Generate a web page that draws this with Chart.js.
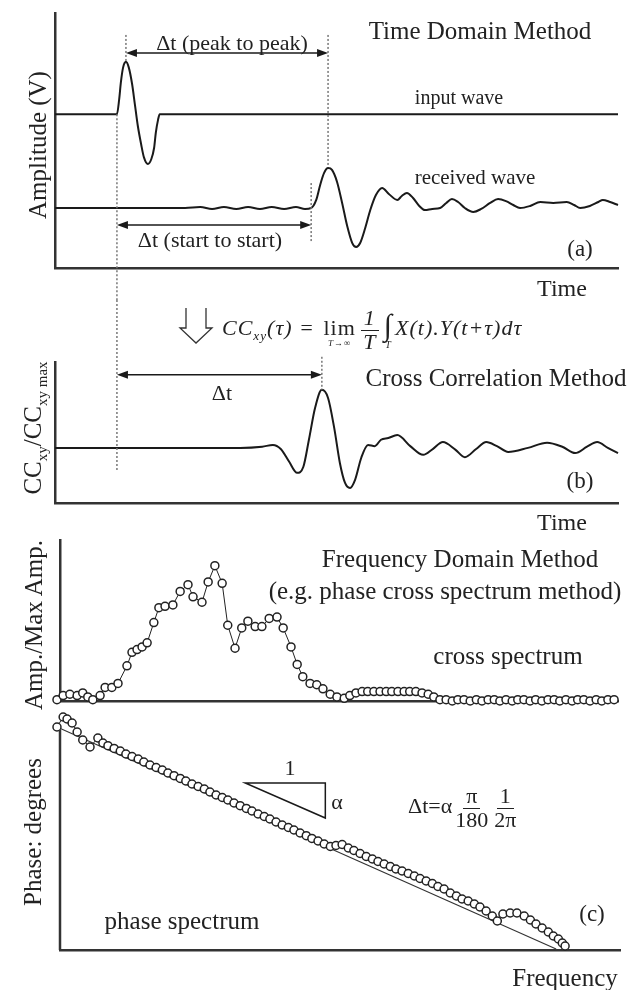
<!DOCTYPE html>
<html>
<head>
<meta charset="utf-8">
<script src="https://cdn.jsdelivr.net/npm/chart.js@4.4.1/dist/chart.umd.min.js"></script>
<style>
  body { margin: 0; background: #fff; }
  #fig { position: relative; width: 629px; height: 990px; overflow: hidden;
         font-family: "Liberation Serif", "Times New Roman", serif; color: #222; }
  canvas { position: absolute; left: 0; }
  .t { position: absolute; white-space: nowrap; line-height: 1; transform: translate(-50%, -50%); }
  .r { transform: translate(-50%, -50%) rotate(-90deg); }
  .l { transform: translateY(-50%); }
  .frac { display: inline-flex; flex-direction: column; align-items: center; vertical-align: middle; margin: 0 3px; }
  .frac > span:first-child { border-bottom: 1px solid #222; padding: 0 3px 1px; }
  .lim { display: inline-flex; flex-direction: column; align-items: center; font-style: normal; margin: 0 2px; }
  .lim small { font-size: 9px; font-style: italic; }
  .int { display: inline-flex; flex-direction: column; align-items: center; vertical-align: middle; margin: 0 2px; font-size: 30px; }
  .int small { font-size: 10px; }
  sub { font-size: 0.6em; }
</style>
</head>
<body>
<div id="fig">
  <canvas id="cA" width="629" height="300" style="top:0"></canvas>
  <canvas id="cB" width="629" height="230" style="top:300px"></canvas>
  <canvas id="cC" width="629" height="190" style="top:525px"></canvas>
  <canvas id="cD" width="629" height="285" style="top:705px"></canvas>

  <!-- panel (a) -->
  <div class="t" style="left:232px;top:43px;font-size:22px">Δt (peak to peak)</div>
  <div class="t" style="left:480px;top:30px;font-size:25px">Time Domain Method</div>
  <div class="t" style="left:459px;top:97px;font-size:20px">input wave</div>
  <div class="t" style="left:475px;top:177px;font-size:21px">received wave</div>
  <div class="t" style="left:210px;top:240px;font-size:22px">Δt (start to start)</div>
  <div class="t" style="left:580px;top:248px;font-size:23px">(a)</div>
  <div class="t" style="left:562px;top:288px;font-size:24px">Time</div>
  <div class="t r" style="left:37px;top:145px;font-size:25px">Amplitude (V)</div>

  <!-- panel (b) -->
  <div class="t l" style="left:222px;top:330px;font-size:22px;letter-spacing:1px;font-style:italic">CC<sub>xy</sub>(τ) = <span class="lim">lim<small>T→∞</small></span><span class="frac"><span>1</span><span>T</span></span><span class="int">∫<small>T</small></span>X(t).Y(t+τ)dτ</div>
  <div class="t" style="left:496px;top:377px;font-size:25px">Cross Correlation Method</div>
  <div class="t" style="left:222px;top:393px;font-size:22px">Δt</div>
  <div class="t" style="left:580px;top:480px;font-size:23px">(b)</div>
  <div class="t" style="left:562px;top:522px;font-size:24px">Time</div>
  <div class="t r" style="left:35px;top:428px;font-size:25px">CC<sub>xy</sub>/CC<sub>xy max</sub></div>

  <!-- panel (c) -->
  <div class="t" style="left:460px;top:558px;font-size:25px">Frequency Domain Method</div>
  <div class="t" style="left:445px;top:590px;font-size:25px">(e.g. phase cross spectrum method)</div>
  <div class="t" style="left:508px;top:655px;font-size:25px">cross spectrum</div>
  <div class="t r" style="left:33px;top:625px;font-size:25px">Amp./Max Amp.</div>
  <div class="t r" style="left:32px;top:832px;font-size:25px">Phase: degrees</div>
  <div class="t" style="left:290px;top:768px;font-size:22px">1</div>
  <div class="t" style="left:337px;top:802px;font-size:22px">α</div>
  <div class="t l" style="left:408px;top:808px;font-size:22px">Δt=α<span class="frac"><span>π</span><span>180</span></span><span class="frac"><span>1</span><span>2π</span></span></div>
  <div class="t" style="left:592px;top:913px;font-size:23px">(c)</div>
  <div class="t" style="left:182px;top:920px;font-size:25px">phase spectrum</div>
  <div class="t" style="left:565px;top:977px;font-size:25px">Frequency</div>
</div>

<script>
// (a) time domain: input and received waves
const timeInput = [0, 11.0, 11.4, 11.7, 12.1, 12.6, 13.1, 13.7, 14.2, 14.7, 15.3, 15.8, 16.5, 17.1, 17.6, 17.9, 18.3, 18.6, 100];
const ampInput = [3.0, 3.0, 3.8, 4.7, 5.5, 5.8, 5.5, 4.6, 3.5, 2.4, 1.4, 0.7, 0.35, 0.6, 1.2, 2.0, 2.7, 3.0, 3.0];

const timeReceived = [0, 23.1, 25.8, 27.9, 30.0, 32.2, 34.3, 36.4, 38.5, 40.7,
  42.8, 44.4, 45.5, 46.4, 47.1, 47.8, 48.5, 49.2, 50.1, 51.0,
  51.9, 52.8, 53.5, 54.2, 55.1, 56.0, 57.0, 58.1, 59.3, 60.8,
  61.6, 62.5, 63.6, 64.7, 65.7, 67.0, 68.4, 69.5, 70.5, 71.6,
  72.8, 74.3, 75.7, 77.3, 78.7, 80.1, 81.4, 82.6, 84.4, 86.2,
  88.5, 90.9, 92.2, 93.3, 95.0, 96.5, 97.3, 98.6, 100];
const ampReceived = [-2.0, -2.0, -1.95, -2.05, -1.95, -2.05, -1.95, -2.05, -1.95, -2.05,
  -1.95, -2.05, -2.0, -1.57, -0.77, -0.13, 0.13, 0.03, -0.61, -1.73,
  -2.96, -3.87, -4.08, -3.87, -3.07, -2.11, -1.31, -0.93, -1.25, -1.57,
  -1.36, -1.20, -1.47, -1.89, -2.11, -2.05, -2.0, -1.73, -1.52, -1.68,
  -2.0, -2.21, -2.05, -1.73, -1.52, -1.63, -1.84, -2.0, -1.89, -1.68,
  -1.73, -1.68, -1.84, -2.0, -1.89, -1.68, -1.57, -1.68, -1.84];

// (b) normalised cross correlation
const timeCC = [0, 32.9, 36.8, 38.7, 40.1, 41.6, 43.0, 44.1, 45.1, 46.2,
  47.4, 48.5, 49.6, 50.6, 51.5, 52.4, 53.3, 54.4, 55.6, 56.8,
  57.9, 59.2, 60.8, 63.1, 65.4, 67.1, 68.9, 71.1, 72.8, 74.8,
  76.6, 78.5, 80.5, 84.0, 87.4, 90.1, 92.4, 94.5, 96.3, 98.2, 100];
const ccNorm = [0, 0, 0.02, 0.05, -0.02, -0.24, -0.43, -0.33, 0.14, 0.69,
  1.0, 0.86, 0.34, -0.26, -0.60, -0.69, -0.55, -0.17, 0.05, 0.03,
  0.14, 0.17, 0.22, 0.03, -0.12, -0.02, 0.10, -0.03, -0.16, -0.02,
  0.10, 0.03, -0.07, 0, 0.09, 0.02, -0.09, 0.02, 0.10, 0, -0.09];

// (c) cross spectrum
const freqCross = [0, 1.1, 2.3, 3.6, 4.6, 5.5, 6.4, 7.7, 8.6, 9.8,
  10.9, 12.5, 13.4, 14.3, 15.2, 16.1, 17.3, 18.2, 19.3, 20.7,
  22.0, 23.4, 24.3, 25.9, 27.0, 28.2, 29.5, 30.5, 31.8, 33.0,
  34.1, 35.4, 36.6, 37.9, 39.3, 40.4, 41.8, 42.9, 43.9, 45.2,
  46.4, 47.5, 48.8, 50.0, 51.3, 52.3, 53.4, 54.5, 55.5, 56.6,
  57.7, 58.8, 59.8, 60.9, 62.0, 63.0, 64.1, 65.2, 66.3, 67.3,
  68.4, 69.5, 70.6, 71.6, 72.7, 73.8, 74.9, 75.9, 77.0, 78.1,
  79.1, 80.2, 81.3, 82.3, 83.4, 84.5, 85.5, 86.6, 87.7, 88.8,
  89.8, 90.9, 92.0, 93.0, 94.1, 95.2, 96.3, 97.3, 98.4, 99.5];
const ampCross = [0.01, 0.04, 0.05, 0.04, 0.06, 0.03, 0.01, 0.04, 0.10, 0.10,
  0.13, 0.26, 0.36, 0.38, 0.40, 0.43, 0.58, 0.69, 0.70, 0.71,
  0.81, 0.86, 0.77, 0.73, 0.88, 1.00, 0.87, 0.56, 0.39, 0.54,
  0.59, 0.55, 0.55, 0.61, 0.62, 0.54, 0.40, 0.27, 0.18, 0.13,
  0.12, 0.09, 0.05, 0.03, 0.02, 0.04, 0.06, 0.07, 0.07, 0.07,
  0.07, 0.07, 0.07, 0.07, 0.07, 0.07, 0.07, 0.06, 0.05, 0.03,
  0.01, 0.01, 0.00, 0.01, 0.01, 0.00, 0.01, 0.00, 0.01, 0.01,
  0.00, 0.01, 0.00, 0.01, 0.01, 0.00, 0.01, 0.00, 0.01, 0.01,
  0.00, 0.01, 0.00, 0.01, 0.01, 0.00, 0.01, 0.00, 0.01, 0.01];

// (c) phase spectrum and its fitted line
const freqPhase = [0.0, 1.1, 1.8, 2.7, 3.6, 4.6, 5.9, 7.3, 8.2, 9.1,
  10.2, 11.3, 12.3, 13.4, 14.5, 15.5, 16.6, 17.7, 18.8, 19.8,
  20.9, 22.0, 23.0, 24.1, 25.2, 26.3, 27.3, 28.4, 29.5, 30.5,
  31.6, 32.7, 33.8, 34.8, 35.9, 37.0, 38.0, 39.1, 40.2, 41.3,
  42.3, 43.4, 44.5, 45.5, 46.6, 47.7, 48.8, 49.8, 50.9, 52.0,
  53.0, 54.1, 55.2, 56.3, 57.3, 58.4, 59.5, 60.5, 61.6, 62.7,
  63.8, 64.8, 65.9, 67.0, 68.0, 69.1, 70.2, 71.3, 72.3, 73.4,
  74.5, 75.5, 76.6, 77.7, 78.6, 79.6, 80.9, 82.1, 83.4, 84.5,
  85.5, 86.6, 87.7, 88.6, 89.5, 90.2, 90.7];
const phaseDeg = [24, 104, 88, 56, -16, -80, -136, -64, -104, -125,
  -147, -168, -192, -212, -232, -256, -280, -300, -320, -344,
  -365, -387, -408, -432, -452, -472, -496, -520, -540, -560,
  -584, -605, -627, -648, -672, -692, -712, -736, -760, -780,
  -800, -824, -845, -867, -888, -912, -932, -924, -916, -944,
  -964, -988, -1012, -1032, -1052, -1072, -1092, -1112, -1128, -1148,
  -1168, -1188, -1208, -1228, -1252, -1272, -1304, -1328, -1352, -1368,
  -1392, -1416, -1448, -1488, -1528, -1472, -1464, -1464, -1488, -1520,
  -1552, -1584, -1616, -1648, -1672, -1704, -1728];
const freqFit = [0, 89.1];
const phaseFit = [24, -1752];

// times used by the Δt markers
const tInputStart = 11.0, tInputPeak = 12.6;
const tRecvStart = 45.5, tRecvPeak = 48.5;
const tCCPeak = 47.4;

const INK = "#1a1a1a";
const AXIS = "#333";
const pts = (xs, ys) => xs.map((x, i) => ({ x: x, y: ys[i] }));

function frame(pad, xMin, xMax, yMin, yMax) {
  const axis = (min, max) => ({
    type: "linear", min: min, max: max,
    grid: { display: false, drawTicks: false, tickLength: 0 },
    ticks: { display: false },
    border: { display: true, color: AXIS, width: 2.5 }
  });
  return {
    responsive: false,
    animation: false,
    events: [],
    layout: { padding: pad },
    plugins: { legend: { display: false }, tooltip: { enabled: false } },
    scales: { x: axis(xMin, xMax), y: axis(yMin, yMax) }
  };
}

function dotted(ctx, x, y1, y2) {
  ctx.save();
  ctx.strokeStyle = "#777";
  ctx.lineWidth = 1.5;
  ctx.setLineDash([2, 2]);
  ctx.beginPath();
  ctx.moveTo(x, y1);
  ctx.lineTo(x, y2);
  ctx.stroke();
  ctx.restore();
}

function head(ctx, x, y, dir) {
  ctx.beginPath();
  ctx.moveTo(x, y);
  ctx.lineTo(x - dir * 11, y - 4);
  ctx.lineTo(x - dir * 11, y + 4);
  ctx.closePath();
  ctx.fill();
}

function dblArrow(ctx, x1, x2, y) {
  ctx.save();
  ctx.strokeStyle = INK;
  ctx.fillStyle = INK;
  ctx.lineWidth = 1.5;
  ctx.beginPath();
  ctx.moveTo(x1 + 4, y);
  ctx.lineTo(x2 - 4, y);
  ctx.stroke();
  head(ctx, x1, y, -1);
  head(ctx, x2, y, 1);
  ctx.restore();
}

const waveStyle = { borderColor: INK, borderWidth: 2, pointRadius: 0, cubicInterpolationMode: "monotone", clip: false };
const dotStyle = { borderColor: "#222", borderWidth: 1, pointRadius: 4, pointBorderWidth: 1.5,
  pointBorderColor: "#222", pointBackgroundColor: "#fff", tension: 0, clip: false };

// panel (a)
new Chart(document.getElementById("cA"), {
  type: "line",
  data: { datasets: [
    Object.assign({ data: pts(timeInput, ampInput) }, waveStyle),
    Object.assign({ data: pts(timeReceived, ampReceived) }, waveStyle)
  ] },
  options: frame({ left: 55, right: 11, top: 13, bottom: 32 }, 0, 100, -5.2, 8.4),
  plugins: [{
    id: "markA",
    afterDatasetsDraw(chart) {
      const { ctx, scales: { x, y } } = chart;
      const xs = x.getPixelForValue(tInputStart), xp = x.getPixelForValue(tInputPeak);
      const rs = x.getPixelForValue(tRecvStart), rp = x.getPixelForValue(tRecvPeak);
      dotted(ctx, xp, y.getPixelForValue(7.23), y.getPixelForValue(5.7));
      dotted(ctx, rp, y.getPixelForValue(7.23), y.getPixelForValue(0.2));
      dblArrow(ctx, xp, rp, y.getPixelForValue(6.27));
      dotted(ctx, xs, y.getPixelForValue(3.0), chart.height);
      dotted(ctx, rs, y.getPixelForValue(-0.67), y.getPixelForValue(-3.87));
      dblArrow(ctx, xs, rs, y.getPixelForValue(-2.91));
    }
  }]
});

// panel (b)
new Chart(document.getElementById("cB"), {
  type: "line",
  data: { datasets: [Object.assign({ data: pts(timeCC, ccNorm) }, waveStyle)] },
  options: frame({ left: 55, right: 11, top: 62, bottom: 27 }, 0, 100, -0.95, 1.48),
  plugins: [{
    id: "markB",
    afterDatasetsDraw(chart) {
      const { ctx, scales: { x, y } } = chart;
      const xs = x.getPixelForValue(tInputStart), xp = x.getPixelForValue(tCCPeak);
      dotted(ctx, xs, 0, y.getPixelForValue(-0.38));
      dotted(ctx, xp, y.getPixelForValue(1.57), y.getPixelForValue(1.0));
      dblArrow(ctx, xs, xp, y.getPixelForValue(1.26));
      // hollow "downward" arrow next to the formula
      ctx.save();
      ctx.strokeStyle = "#333";
      ctx.lineWidth = 1.3;
      ctx.beginPath();
      ctx.moveTo(186, 8);
      ctx.lineTo(186, 28);
      ctx.lineTo(180, 28);
      ctx.lineTo(196, 43);
      ctx.lineTo(212, 28);
      ctx.lineTo(206, 28);
      ctx.lineTo(206, 8);
      ctx.stroke();
      ctx.restore();
    }
  }]
});

// panel (c) top: cross spectrum
new Chart(document.getElementById("cC"), {
  type: "line",
  data: { datasets: [Object.assign({ data: pts(freqCross, ampCross) }, dotStyle)] },
  options: frame({ left: 60, right: 11, top: 15, bottom: 14 }, 0.54, 100.2, 0, 1.19)
});

// panel (c) bottom: phase spectrum
// the plot area reaches above 0 deg so the first circles are drawn; the
// y axis line itself is drawn from 0 deg downwards
const phaseOpts = frame({ left: 60, right: 9, top: 7, bottom: 40 }, 0.54, 100.5, -1760, 144);
phaseOpts.scales.y.border.display = false;
new Chart(document.getElementById("cD"), {
  type: "line",
  data: { datasets: [
    Object.assign({ data: pts(freqPhase, phaseDeg) }, dotStyle),
    { data: pts(freqFit, phaseFit), borderColor: "#333", borderWidth: 1.2, pointRadius: 0, clip: false }
  ] },
  options: phaseOpts,
  plugins: [{
    id: "phaseAxis",
    beforeDatasetsDraw(chart) {
      const { ctx, chartArea: a, scales: { y } } = chart;
      ctx.save();
      ctx.strokeStyle = AXIS;
      ctx.lineWidth = 2.5;
      ctx.beginPath();
      ctx.moveTo(a.left, y.getPixelForValue(0));
      ctx.lineTo(a.left, a.bottom);
      ctx.stroke();
      ctx.restore();
    },
    afterDatasetsDraw(chart) {
      const { ctx, scales: { x, y } } = chart;
      const x1 = x.getPixelForValue(33.6), x2 = x.getPixelForValue(47.9);
      const y1 = y.getPixelForValue(-424), y2 = y.getPixelForValue(-704);
      ctx.save();
      ctx.strokeStyle = INK;
      ctx.lineWidth = 1.5;
      ctx.beginPath();
      ctx.moveTo(x1, y1);
      ctx.lineTo(x2, y1);
      ctx.lineTo(x2, y2);
      ctx.closePath();
      ctx.stroke();
      ctx.restore();
    }
  }]
});
</script>
</body>
</html>
